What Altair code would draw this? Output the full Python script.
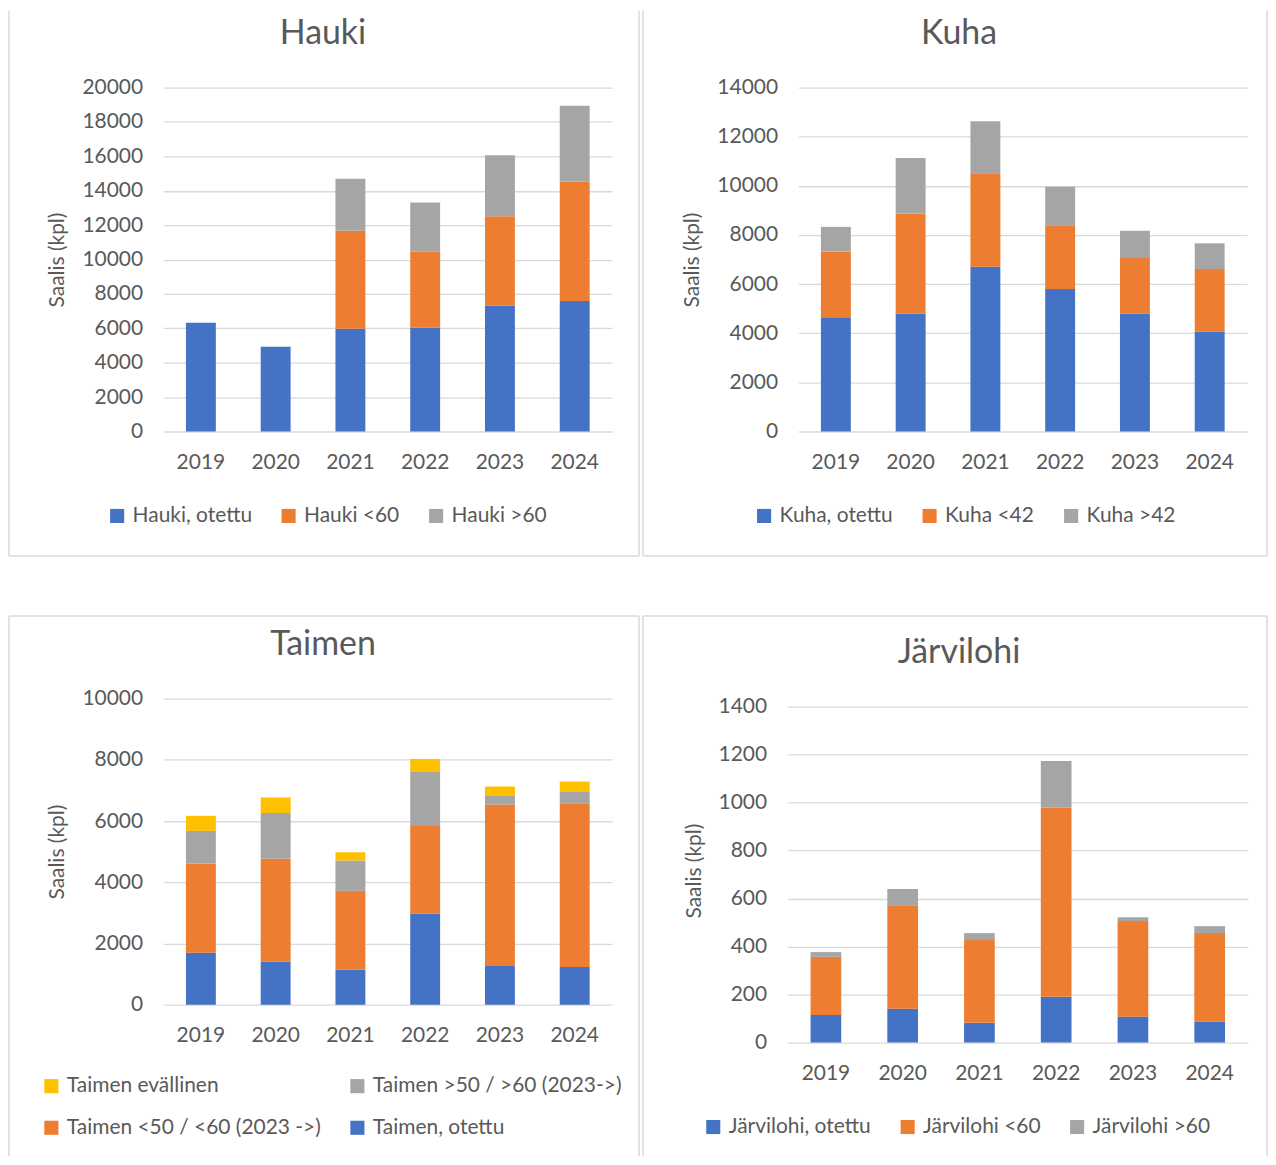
import altair as alt
import pandas as pd

years = ["2019", "2020", "2021", "2022", "2023", "2024"]

# Hauki
hauki_series = ["Hauki, otettu", "Hauki <60", "Hauki >60"]
hauki_otettu = [6320, 4930, 5970, 6050, 7320, 7590]
hauki_alle60 = [0, 0, 5700, 4400, 5200, 6940]
hauki_yli60 = [0, 0, 3030, 2860, 3540, 4410]

# Kuha
kuha_series = ["Kuha, otettu", "Kuha <42", "Kuha >42"]
kuha_otettu = [4650, 4800, 6710, 5800, 4790, 4070]
kuha_alle42 = [2680, 4070, 3800, 2600, 2270, 2540]
kuha_yli42 = [1000, 2260, 2120, 1560, 1110, 1050]

# Taimen
taimen_series = ["Taimen, otettu", "Taimen <50 / <60 (2023 ->)",
                 "Taimen >50 / >60 (2023->)", "Taimen evällinen"]
taimen_otettu = [1700, 1410, 1150, 2970, 1260, 1230]
taimen_alle = [2910, 3360, 2570, 2870, 5280, 5330]
taimen_yli = [1070, 1490, 990, 1760, 280, 390]
taimen_evallinen = [490, 510, 270, 430, 310, 340]
taimen_legend = ["Taimen evällinen", "Taimen >50 / >60 (2023->)",
                 "Taimen <50 / <60 (2023 ->)", "Taimen, otettu"]

# Järvilohi
jarvilohi_series = ["Järvilohi, otettu", "Järvilohi <60", "Järvilohi >60"]
jarvilohi_otettu = [115, 141, 82, 191, 108, 87]
jarvilohi_alle60 = [242, 431, 345, 787, 398, 369]
jarvilohi_yli60 = [20, 68, 29, 195, 16, 29]

BLUE, ORANGE, GRAY, YELLOW = "#4472C4", "#ED7D31", "#A5A5A5", "#FFC000"
TXT = "#595959"
GRID = "#D9D9D9"
FONT = "Lato"


def panel(title, series, values, colors, legend_order, ymax, ystep, dom_max,
          width, height, box, edges, legend_xy, legend_cols, title_xy):
    rows = []
    for k, (name, vals) in enumerate(zip(series, values)):
        for yr, v in zip(years, vals):
            rows.append({"year": yr, "series": name, "value": v, "ord": k})
    df = pd.DataFrame(rows)
    cmap = dict(zip(series, colors))
    leg_range = [cmap[s] for s in legend_order]

    bars = alt.Chart(df).mark_bar().encode(
        x=alt.X("year:N", sort=years,
                scale=alt.Scale(paddingInner=0.6, paddingOuter=0.3),
                axis=alt.Axis(title=None, labelAngle=0, labelFont=FONT,
                              labelFontSize=21, labelColor=TXT, labelPadding=20,
                              ticks=False, domain=False, grid=False)),
        y=alt.Y("value:Q", stack="zero",
                scale=alt.Scale(domain=[0, dom_max], nice=False),
                axis=alt.Axis(title="Saalis (kpl)", titleFont=FONT,
                              titleFontSize=21, titleColor=TXT,
                              titleFontWeight="normal", titlePadding=14,
                              labelFont=FONT, labelFontSize=21, labelColor=TXT,
                              labelPadding=21, ticks=False, domain=False,
                              grid=True, gridColor=GRID, gridWidth=1.3,
                              values=list(range(0, ymax + 1, ystep)),
                              format="d")),
        color=alt.Color("series:N",
                        scale=alt.Scale(domain=legend_order, range=leg_range),
                        legend=alt.Legend(title=None, orient="none",
                                          legendX=legend_xy[0],
                                          legendY=legend_xy[1],
                                          direction="horizontal",
                                          columns=legend_cols,
                                          labelFont=FONT, labelFontSize=21,
                                          labelColor=TXT, labelLimit=400,
                                          symbolType="square", symbolSize=200,
                                          symbolStrokeWidth=0, labelOffset=5,
                                          columnPadding=26, rowPadding=20)),
        order=alt.Order("ord:Q", sort="ascending"),
    )

    a, b, c, d = box
    frame_df = pd.DataFrame({"title": [title]})
    rule_kw = dict(color=GRID, strokeWidth=1.5)
    layers = [
        alt.Chart(frame_df).mark_rule(**rule_kw).encode(
            x=alt.value(-a), y=alt.value(-c), y2=alt.value(height + d)),
        alt.Chart(frame_df).mark_rule(**rule_kw).encode(
            x=alt.value(width + b), y=alt.value(-c), y2=alt.value(height + d)),
    ]
    if "top" in edges:
        layers.append(alt.Chart(frame_df).mark_rule(**rule_kw).encode(
            y=alt.value(-c), x=alt.value(-a), x2=alt.value(width + b)))
    if "bottom" in edges:
        layers.append(alt.Chart(frame_df).mark_rule(**rule_kw).encode(
            y=alt.value(height + d), x=alt.value(-a), x2=alt.value(width + b)))
    ttl = alt.Chart(frame_df).mark_text(
        font=FONT, fontSize=34, color=TXT, baseline="middle", align="center"
    ).encode(x=alt.value(title_xy[0]), y=alt.value(title_xy[1]), text="title:N")
    layers += [bars, ttl]
    return alt.layer(*layers).properties(width=width, height=height)


hauki = panel("Hauki", hauki_series,
              [hauki_otettu, hauki_alle60, hauki_yli60],
              [BLUE, ORANGE, GRAY], hauki_series, 20000, 2000, 20000,
              450, 345, (155, 27, 77, 125), ["bottom"], (-57, 419), 3, (160, -54))

kuha = panel("Kuha", kuha_series,
             [kuha_otettu, kuha_alle42, kuha_yli42],
             [BLUE, ORANGE, GRAY], kuha_series, 14000, 2000, 14000,
             450, 345, (156, 20, 77, 125), ["bottom"], (-45, 419), 3, (161, -54))

taimen = panel("Taimen", taimen_series,
               [taimen_otettu, taimen_alle, taimen_yli, taimen_evallinen],
               [BLUE, ORANGE, GRAY, YELLOW], taimen_legend,
               10000, 2000, 10000,
               450, 307, (155, 27, 83, 152), ["top"], (-123, 378), 2, (160, -54))

jarvilohi = panel("Järvilohi", jarvilohi_series,
                  [jarvilohi_otettu, jarvilohi_alle60, jarvilohi_yli60],
                  [BLUE, ORANGE, GRAY], jarvilohi_series, 1400, 200, 1433.2,
                  462, 345, (145, 19, 83, 114), ["top"], (-85, 419), 3, (172, -46))

top = alt.hconcat(hauki, kuha, spacing=2).resolve_scale(
    color="independent", x="independent", y="independent"
).resolve_legend(color="independent")
bottom = alt.hconcat(taimen, jarvilohi, spacing=2).resolve_scale(
    color="independent", x="independent", y="independent"
).resolve_legend(color="independent")

chart = alt.vconcat(top, bottom, spacing=58).resolve_scale(
    color="independent", x="independent", y="independent"
).resolve_legend(color="independent").properties(
    padding=0, background="white"
).configure_view(stroke=None)

chart.save("out.html", embed_options={"renderer": "svg", "actions": False})
